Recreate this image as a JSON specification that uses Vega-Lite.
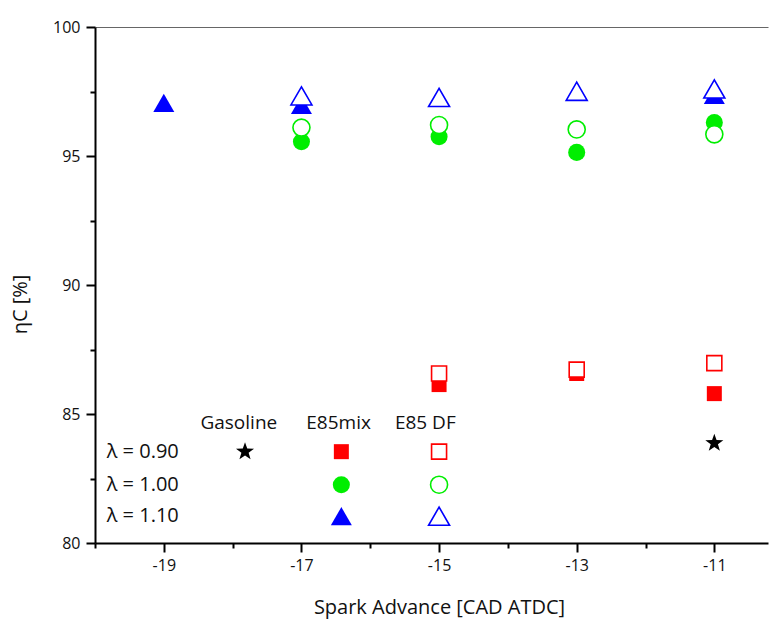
{
  "$schema": "https://vega.github.io/schema/vega-lite/v6.json",
  "width": 673,
  "height": 516,
  "autosize": {"type": "none"},
  "padding": {"left": 95, "top": 27, "right": 1, "bottom": 78},
  "background": "white",
  "config": {
    "view": {"stroke": null},
    "font": "Open Sans",
    "axis": {"grid": false, "labelColor": "#111", "titleColor": "#111", "titleFontWeight": "normal", "domainColor": "#000", "tickColor": "#000"}
  },
  "datasets": {
    "points": [
      {"sa": -15, "eta": 86.14, "fuel": "E85mix", "lambda": "0.90"},
      {"sa": -13, "eta": 86.57, "fuel": "E85mix", "lambda": "0.90"},
      {"sa": -11, "eta": 85.79, "fuel": "E85mix", "lambda": "0.90"},
      {"sa": -15, "eta": 86.57, "fuel": "E85 DF", "lambda": "0.90"},
      {"sa": -13, "eta": 86.72, "fuel": "E85 DF", "lambda": "0.90"},
      {"sa": -11, "eta": 86.97, "fuel": "E85 DF", "lambda": "0.90"},
      {"sa": -17, "eta": 95.55, "fuel": "E85mix", "lambda": "1.00"},
      {"sa": -15, "eta": 95.75, "fuel": "E85mix", "lambda": "1.00"},
      {"sa": -13, "eta": 95.14, "fuel": "E85mix", "lambda": "1.00"},
      {"sa": -11, "eta": 96.30, "fuel": "E85mix", "lambda": "1.00"},
      {"sa": -17, "eta": 96.10, "fuel": "E85 DF", "lambda": "1.00"},
      {"sa": -15, "eta": 96.20, "fuel": "E85 DF", "lambda": "1.00"},
      {"sa": -13, "eta": 96.03, "fuel": "E85 DF", "lambda": "1.00"},
      {"sa": -11, "eta": 95.84, "fuel": "E85 DF", "lambda": "1.00"},
      {"sa": -19, "eta": 97.06, "fuel": "E85mix", "lambda": "1.10"},
      {"sa": -17, "eta": 96.98, "fuel": "E85mix", "lambda": "1.10"},
      {"sa": -11, "eta": 97.37, "fuel": "E85mix", "lambda": "1.10"},
      {"sa": -17, "eta": 97.33, "fuel": "E85 DF", "lambda": "1.10"},
      {"sa": -15, "eta": 97.27, "fuel": "E85 DF", "lambda": "1.10"},
      {"sa": -13, "eta": 97.51, "fuel": "E85 DF", "lambda": "1.10"},
      {"sa": -11, "eta": 97.60, "fuel": "E85 DF", "lambda": "1.10"},
      {"sa": -11, "eta": 83.87, "fuel": "Gasoline", "lambda": "0.90"}
    ],
    "keys": [
      {"sa": -17.82, "eta": 83.54, "fuel": "Gasoline", "lambda": "0.90"},
      {"sa": -16.42, "eta": 83.54, "fuel": "E85mix", "lambda": "0.90"},
      {"sa": -16.42, "eta": 82.26, "fuel": "E85mix", "lambda": "1.00"},
      {"sa": -16.42, "eta": 81.04, "fuel": "E85mix", "lambda": "1.10"},
      {"sa": -15.0, "eta": 83.54, "fuel": "E85 DF", "lambda": "0.90"},
      {"sa": -15.0, "eta": 82.26, "fuel": "E85 DF", "lambda": "1.00"},
      {"sa": -15.0, "eta": 81.04, "fuel": "E85 DF", "lambda": "1.10"}
    ],
    "rowLabels": [
      {"sa": -19.83, "eta": 83.54, "label": "λ = 0.90"},
      {"sa": -19.83, "eta": 82.26, "label": "λ = 1.00"},
      {"sa": -19.83, "eta": 81.04, "label": "λ = 1.10"}
    ],
    "headers": [
      {"sa": -17.91, "eta": 84.67, "label": "Gasoline"},
      {"sa": -16.46, "eta": 84.67, "label": "E85mix"},
      {"sa": -15.2, "eta": 84.67, "label": "E85 DF"}
    ]
  },
  "resolve": {"axis": {"x": "independent", "y": "independent"}},
  "layer": [
    {
      "data": {"name": "points"},
      "mark": {"type": "point", "opacity": 0},
      "encoding": {
        "x": {"field": "sa", "type": "quantitative", "scale": {"domain": [-20, -10.22], "nice": false, "zero": false},
              "axis": {"orient": "bottom", "values": [-20, -18, -16, -14, -12], "tickSize": 5, "tickWidth": 2, "labels": false, "domain": false, "title": null}},
        "y": {"field": "eta", "type": "quantitative", "scale": {"domain": [80, 100], "nice": false, "zero": false},
              "axis": {"orient": "left", "values": [82.5, 87.5, 92.5, 97.5], "tickSize": 5, "tickWidth": 2, "labels": false, "domain": false, "title": null}}
      }
    },
    {
      "data": {"name": "points"},
      "mark": {"type": "point", "opacity": 0},
      "encoding": {
        "x": {"field": "sa", "type": "quantitative",
              "axis": {"orient": "top", "ticks": false, "labels": false, "domainColor": "#666", "domainWidth": 1, "title": null}},
        "y": {"field": "eta", "type": "quantitative", "axis": null}
      }
    },
    {
      "data": {"name": "points"},
      "transform": [{"filter": "datum.fuel === 'E85mix'"}],
      "mark": {"type": "point", "filled": true, "opacity": 1},
      "encoding": {
        "x": {"field": "sa", "type": "quantitative",
              "axis": {"orient": "bottom", "values": [-19, -17, -15, -13, -11], "tickSize": 9, "tickWidth": 2, "domainWidth": 2,
                       "labelFontSize": 16, "labelPadding": 5, "labelExpr": "replace(datum.label, '−', '-')",
                       "title": "Spark Advance [CAD ATDC]", "titleFontSize": 20, "titlePadding": 24, "titleX": 344}},
        "y": {"field": "eta", "type": "quantitative",
              "axis": {"orient": "left", "values": [80, 85, 90, 95, 100], "tickSize": 9, "tickWidth": 2, "domainWidth": 2,
                       "labelFontSize": 16, "labelPadding": 6,
                       "title": "ηC [%]", "titleFontSize": 20, "titlePadding": 22, "titleY": 277}},
        "color": {"field": "lambda", "type": "nominal", "scale": {"domain": ["0.90", "1.00", "1.10"], "range": ["#ff0000", "#00ee00", "#0000ff"]}, "legend": null},
        "shape": {"field": "lambda", "type": "nominal", "scale": {"domain": ["0.90", "1.00", "1.10"], "range": ["square", "circle", "triangle-up"]}, "legend": null},
        "size": {"field": "lambda", "type": "ordinal", "scale": {"type": "ordinal", "domain": ["0.90", "1.00", "1.10"], "range": [225, 290, 440]}, "legend": null}
      }
    },
    {
      "data": {"name": "points"},
      "transform": [{"filter": "datum.fuel === 'E85 DF'"}],
      "mark": {"type": "point", "filled": false, "fill": "white", "fillOpacity": 1, "opacity": 1, "strokeWidth": 1.6},
      "encoding": {
        "x": {"field": "sa", "type": "quantitative", "axis": null},
        "y": {"field": "eta", "type": "quantitative", "axis": null},
        "color": {"field": "lambda", "type": "nominal", "legend": null},
        "shape": {"field": "lambda", "type": "nominal", "legend": null},
        "size": {"field": "lambda", "type": "ordinal", "scale": {"type": "ordinal", "domain": ["0.90", "1.00", "1.10"], "range": [225, 290, 440]}, "legend": null}
      }
    },
    {
      "data": {"name": "points"},
      "transform": [{"filter": "datum.fuel === 'Gasoline'"}],
      "mark": {"type": "point", "filled": true, "opacity": 1, "color": "#000", "size": 360,
               "shape": "M0,-1L0.235,-0.324L0.951,-0.309L0.38,0.124L0.588,0.809L0,0.4L-0.588,0.809L-0.38,0.124L-0.951,-0.309L-0.235,-0.324Z"},
      "encoding": {
        "x": {"field": "sa", "type": "quantitative", "axis": null},
        "y": {"field": "eta", "type": "quantitative", "axis": null}
      }
    },
    {
      "data": {"name": "keys"},
      "transform": [{"filter": "datum.fuel === 'E85mix'"}],
      "mark": {"type": "point", "filled": true, "opacity": 1},
      "encoding": {
        "x": {"field": "sa", "type": "quantitative", "axis": null},
        "y": {"field": "eta", "type": "quantitative", "axis": null},
        "color": {"field": "lambda", "type": "nominal", "legend": null},
        "shape": {"field": "lambda", "type": "nominal", "legend": null},
        "size": {"field": "lambda", "type": "ordinal", "scale": {"type": "ordinal", "domain": ["0.90", "1.00", "1.10"], "range": [225, 290, 440]}, "legend": null}
      }
    },
    {
      "data": {"name": "keys"},
      "transform": [{"filter": "datum.fuel === 'E85 DF'"}],
      "mark": {"type": "point", "filled": false, "fill": "white", "fillOpacity": 1, "opacity": 1, "strokeWidth": 1.6},
      "encoding": {
        "x": {"field": "sa", "type": "quantitative", "axis": null},
        "y": {"field": "eta", "type": "quantitative", "axis": null},
        "color": {"field": "lambda", "type": "nominal", "legend": null},
        "shape": {"field": "lambda", "type": "nominal", "legend": null},
        "size": {"field": "lambda", "type": "ordinal", "scale": {"type": "ordinal", "domain": ["0.90", "1.00", "1.10"], "range": [225, 290, 440]}, "legend": null}
      }
    },
    {
      "data": {"name": "keys"},
      "transform": [{"filter": "datum.fuel === 'Gasoline'"}],
      "mark": {"type": "point", "filled": true, "opacity": 1, "color": "#000", "size": 360,
               "shape": "M0,-1L0.235,-0.324L0.951,-0.309L0.38,0.124L0.588,0.809L0,0.4L-0.588,0.809L-0.38,0.124L-0.951,-0.309L-0.235,-0.324Z"},
      "encoding": {
        "x": {"field": "sa", "type": "quantitative", "axis": null},
        "y": {"field": "eta", "type": "quantitative", "axis": null}
      }
    },
    {
      "data": {"name": "rowLabels"},
      "mark": {"type": "text", "align": "left", "baseline": "middle", "fontSize": 20, "color": "#111"},
      "encoding": {
        "x": {"field": "sa", "type": "quantitative", "axis": null},
        "y": {"field": "eta", "type": "quantitative", "axis": null},
        "text": {"field": "label"}
      }
    },
    {
      "data": {"name": "headers"},
      "mark": {"type": "text", "align": "center", "baseline": "middle", "fontSize": 19, "color": "#111"},
      "encoding": {
        "x": {"field": "sa", "type": "quantitative", "axis": null},
        "y": {"field": "eta", "type": "quantitative", "axis": null},
        "text": {"field": "label"}
      }
    }
  ]
}
